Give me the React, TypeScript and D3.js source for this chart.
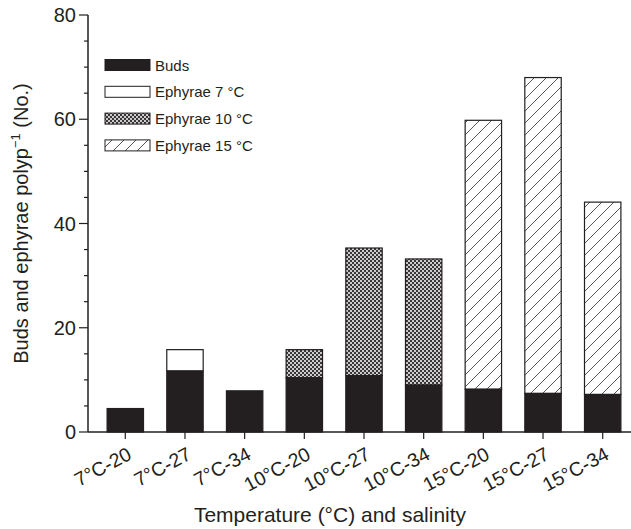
import React from 'react'
import * as d3 from 'd3'

const categories = ['7°C-20', '7°C-27', '7°C-34', '10°C-20', '10°C-27', '10°C-34', '15°C-20', '15°C-27', '15°C-34']
const buds = [4.5, 11.7, 7.9, 10.4, 10.8, 9.0, 8.2, 7.4, 7.2]
const ephyrae = [0, 4.1, 0, 5.4, 24.5, 24.2, 51.6, 60.6, 36.9]
const ephyraeGroup = ['7', '7', '7', '10', '10', '10', '15', '15', '15']
const yTicks = [0, 20, 40, 60, 80]
const yMinor = d3.range(0, 81, 5)
const legendItems = ['Buds', 'Ephyrae 7 °C', 'Ephyrae 10 °C', 'Ephyrae 15 °C']

const W = 631
const H = 529
const margin = { top: 15, right: -9, bottom: 97, left: 88 }
const ink = '#231f20'
const font = 'Liberation Sans, Arial, Helvetica, sans-serif'

const fillFor: Record<string, string> = {
  '7': '#fff',
  '10': 'url(#cross)',
  '15': 'url(#hatch)',
}

export default function App() {
  const x = d3.scaleBand<string>()
    .domain(categories)
    .range([margin.left, W - margin.right])
    .paddingInner(0.39)
    .paddingOuter(0.32)
  const y = d3.scaleLinear().domain([0, 80]).range([H - margin.bottom, margin.top])
  const y0 = y(0)

  return (
    <svg width={W} height={H} style={{ display: 'block', position: 'absolute', left: 0, top: 0 }} fontFamily={font}>
      <defs>
        <pattern id="cross" patternUnits="userSpaceOnUse" width="4" height="4">
          <rect width="4" height="4" fill="#3a3637" />
          <circle cx="1" cy="1" r="1" fill="#fff" />
          <circle cx="3" cy="3" r="1" fill="#fff" />
        </pattern>
        <pattern id="hatch" patternUnits="userSpaceOnUse" width="12" height="12">
          <rect width="12" height="12" fill="#fff" />
          <path d="M-3,3L3,-3M0,12L12,0M9,15L15,9" stroke="#444" strokeWidth={0.9} />
        </pattern>
      </defs>

      {categories.map((c, i) => {
        const bx = x(c)!
        const bw = x.bandwidth()
        return (
          <g key={c}>
            {ephyrae[i] > 0 && (
              <rect x={bx} y={y(buds[i] + ephyrae[i])} width={bw} height={y(buds[i]) - y(buds[i] + ephyrae[i])}
                fill={fillFor[ephyraeGroup[i]]} stroke={ink} strokeWidth={1.2} />
            )}
            <rect x={bx} y={y(buds[i])} width={bw} height={y0 - y(buds[i])} fill={ink} stroke={ink} strokeWidth={1.2} />
          </g>
        )
      })}

      {/* legend */}
      {legendItems.map((t, i) => {
        const ly = 65 + i * 26.8
        const f = i === 0 ? ink : i === 1 ? '#fff' : i === 2 ? 'url(#cross)' : 'url(#hatch)'
        return (
          <g key={t}>
            <rect x={105} y={ly - 5.5} width={45} height={11} fill={f} stroke={ink} strokeWidth={1} />
            <text x={155} y={ly + 5.5} fontSize={15} fill={ink}>{t}</text>
          </g>
        )
      })}

      {/* y axis */}
      <line x1={margin.left} x2={margin.left} y1={y(80)} y2={y0} stroke={ink} strokeWidth={1.5} />
      {yMinor.map(v => (
        <line key={v} x1={margin.left} x2={margin.left - (v % 20 === 0 ? 9 : 4)} y1={y(v)} y2={y(v)} stroke={ink} strokeWidth={1.2} />
      ))}
      {yTicks.map(v => (
        <text key={v} x={margin.left - 12} y={y(v)} dy="0.36em" textAnchor="end" fontSize={20} fill={ink}>{v}</text>
      ))}

      {/* x axis */}
      <line x1={margin.left} x2={W} y1={y0} y2={y0} stroke={ink} strokeWidth={1.5} />
      {categories.map(c => {
        const cx = x(c)! + x.bandwidth() / 2
        return (
          <g key={c}>
            <line x1={cx} x2={cx} y1={y0} y2={y0 + 7} stroke={ink} strokeWidth={1.2} />
            <text transform={`translate(${cx + 1},${y0 + 14}) rotate(-28)`} textAnchor="end" dy="0.72em" fontSize={19.5} fill={ink}>{c}</text>
          </g>
        )
      })}

      <text x={330} y={522} textAnchor="middle" fontSize={21} fill={ink}>Temperature (°C) and salinity</text>
      <text transform={`translate(28,${(y(80) + y0) / 2}) rotate(-90)`} textAnchor="middle" fontSize={20} fill={ink}>
        Buds and ephyrae polyp<tspan dy="-8" fontSize={13}>−1</tspan><tspan dy="8"> (No.)</tspan>
      </text>
    </svg>
  )
}
